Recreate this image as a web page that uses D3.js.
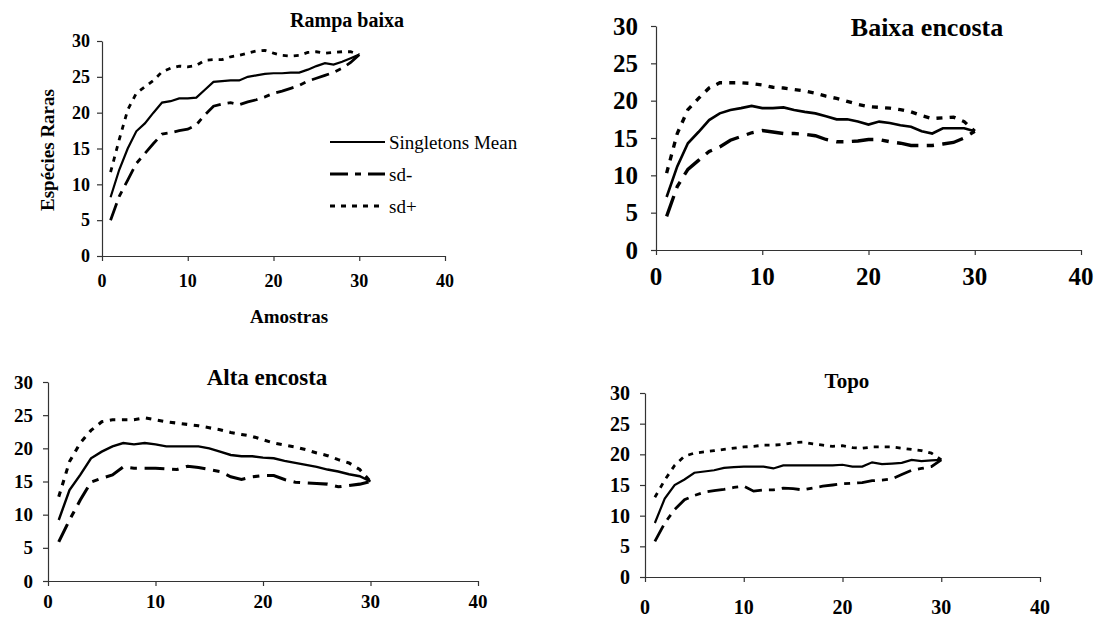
<!DOCTYPE html>
<html>
<head>
<meta charset="utf-8">
<script src="https://cdn.jsdelivr.net/npm/d3@7"></script>
<style>
    body { margin: 0; background: #fff; }
</style>
</head>
<body>
<script>
    // amostras (eixo x)
    let amostras = [1, 2, 3, 4, 5, 6, 7, 8, 9, 10, 11, 12, 13, 14, 15, 16, 17, 18, 19, 20, 21, 22, 23, 24, 25, 26, 27, 28, 29, 30];
    let xTicks = [0, 10, 20, 30, 40];
    let yTicks = [0, 5, 10, 15, 20, 25, 30];
    let legendNames = ["Singletons Mean", "sd-", "sd+"];

    // Rampa baixa
    let rampaMean = [8.2, 12.0, 15.0, 17.4, 18.5, 20.0, 21.4, 21.6, 22.0, 22.0, 22.1, 23.2, 24.3, 24.4, 24.5, 24.5, 25.0, 25.2, 25.4, 25.5, 25.5, 25.6, 25.6, 26.0, 26.5, 26.9, 26.7, 27.1, 27.6, 28.1];
    let rampaSdMinus = [5.0, 8.3, 10.6, 12.9, 14.3, 15.7, 17.0, 17.2, 17.5, 17.7, 18.3, 19.7, 20.9, 21.2, 21.4, 21.1, 21.5, 21.8, 22.2, 22.7, 23.0, 23.4, 23.8, 24.4, 24.8, 25.2, 25.6, 26.2, 27.0, 28.1];
    let rampaSdPlus = [11.7, 16.2, 20.4, 22.7, 23.6, 24.5, 25.7, 26.2, 26.5, 26.4, 26.6, 27.3, 27.4, 27.4, 27.8, 28.0, 28.3, 28.6, 28.7, 28.3, 28.0, 27.9, 28.0, 28.4, 28.5, 28.3, 28.4, 28.5, 28.5, 28.1];

    // Baixa encosta
    let baixaMean = [7.1, 11.2, 14.3, 15.8, 17.4, 18.3, 18.75, 19.0, 19.3, 19.0, 19.0, 19.1, 18.75, 18.5, 18.3, 17.9, 17.5, 17.5, 17.2, 16.8, 17.2, 17.0, 16.7, 16.5, 15.9, 15.6, 16.3, 16.3, 16.3, 15.9];
    let baixaSdMinus = [4.5, 8.5, 10.8, 12.0, 13.2, 13.8, 14.7, 15.2, 15.7, 16.0, 15.8, 15.6, 15.6, 15.5, 15.3, 14.8, 14.5, 14.5, 14.6, 14.8, 14.8, 14.5, 14.3, 14.0, 14.0, 14.0, 14.2, 14.4, 15.0, 15.9];
    let baixaSdPlus = [10.3, 15.6, 18.8, 20.3, 21.7, 22.4, 22.4, 22.4, 22.3, 22.1, 21.8, 21.7, 21.5, 21.3, 21.0, 20.6, 20.3, 19.9, 19.5, 19.2, 19.1, 19.0, 18.8, 18.5, 18.0, 17.6, 17.7, 17.8, 17.2, 15.9];

    // Alta encosta
    let altaMean = [9.2, 13.7, 16.0, 18.5, 19.5, 20.3, 20.8, 20.6, 20.8, 20.6, 20.3, 20.3, 20.3, 20.3, 20.0, 19.5, 19.0, 18.8, 18.8, 18.6, 18.5, 18.1, 17.8, 17.5, 17.2, 16.8, 16.5, 16.1, 15.8, 15.0];
    let altaSdMinus = [5.9, 9.2, 12.2, 14.9, 15.5, 16.0, 17.2, 17.0, 17.0, 17.0, 16.9, 16.8, 17.3, 17.1, 16.8, 16.5, 15.7, 15.3, 15.7, 15.9, 15.9, 15.3, 14.9, 14.8, 14.7, 14.6, 14.2, 14.4, 14.6, 15.0];
    let altaSdPlus = [12.7, 18.0, 20.8, 22.7, 24.0, 24.3, 24.3, 24.3, 24.6, 24.3, 24.0, 23.8, 23.6, 23.4, 23.1, 22.8, 22.4, 22.1, 21.8, 21.3, 20.8, 20.5, 20.2, 19.8, 19.3, 18.9, 18.3, 17.8, 16.8, 15.0];

    // Topo
    let topoMean = [8.8, 12.8, 15.0, 15.9, 17.0, 17.2, 17.4, 17.8, 17.9, 18.0, 18.0, 18.0, 17.7, 18.2, 18.2, 18.2, 18.2, 18.2, 18.2, 18.3, 18.0, 18.0, 18.7, 18.4, 18.5, 18.6, 19.1, 18.9, 19.0, 19.1];
    let topoSdMinus = [5.8, 8.8, 11.0, 12.6, 13.3, 13.8, 14.1, 14.3, 14.6, 14.8, 14.0, 14.2, 14.2, 14.5, 14.4, 14.2, 14.5, 14.8, 15.0, 15.2, 15.3, 15.4, 15.7, 15.8, 16.0, 16.7, 17.4, 17.7, 18.0, 19.1];
    let topoSdPlus = [13.0, 15.8, 18.2, 19.7, 20.2, 20.4, 20.6, 20.8, 21.0, 21.2, 21.3, 21.5, 21.5, 21.6, 21.9, 22.0, 21.7, 21.5, 21.3, 21.4, 21.1, 21.0, 21.2, 21.2, 21.2, 21.0, 20.8, 20.6, 20.2, 19.1];

    let w = 1104;
    let h = 622;
    let serif = "'Liberation Serif', 'DejaVu Serif', serif";

    let svg = d3.select("body")
        .append("svg")
        .attr("width", w)
        .attr("height", h);

    // posicao de cada painel (pixels do eixo)
    let panels = [
        {title: "Rampa baixa", mean: rampaMean, minus: rampaSdMinus, plus: rampaSdPlus,
            x0: 102, x1: 445, y0: 256, y1: 41, font: 18, titleFont: 20, titleX: 347, titleY: 27,
            xLabelY: 287, yLabelX: 90, k: 1, legend: true, axisTitles: true},
        {title: "Baixa encosta", mean: baixaMean, minus: baixaSdMinus, plus: baixaSdPlus,
            x0: 656, x1: 1081, y0: 250, y1: 26, font: 25, titleFont: 26, titleX: 927, titleY: 36,
            xLabelY: 285, yLabelX: 638, k: 1.2},
        {title: "Alta encosta", mean: altaMean, minus: altaSdMinus, plus: altaSdPlus,
            x0: 48, x1: 478, y0: 581, y1: 382, font: 19, titleFont: 23, titleX: 267, titleY: 385,
            xLabelY: 608, yLabelX: 33, k: 1.1},
        {title: "Topo", mean: topoMean, minus: topoSdMinus, plus: topoSdPlus,
            x0: 645, x1: 1040, y0: 577, y1: 393, font: 20, titleFont: 21, titleX: 847, titleY: 388,
            xLabelY: 614, yLabelX: 630, k: 1}
    ];

    function label(g, size, weight) {
        return g.append("text")
            .style("font-family", serif)
            .style("font-weight", weight || "bold")
            .style("font-size", size + "px")
            .attr("fill", "#000");
    }

    function drawPanel(p) {
        let x = d3.scaleLinear().domain([0, 40]).range([p.x0, p.x1]);
        let y = d3.scaleLinear().domain([0, 30]).range([p.y0, p.y1]);
        let g = svg.append("g");

        // eixo x
        g.append("g")
            .attr("transform", "translate(0," + p.y0 + ")")
            .call(d3.axisBottom(x).tickValues(xTicks).tickSize(5).tickSizeOuter(0).tickFormat(""));
        // eixo y
        g.append("g")
            .attr("transform", "translate(" + p.x0 + ",0)")
            .call(d3.axisLeft(y).tickValues(yTicks).tickSize(5).tickSizeOuter(0).tickFormat(""));
        g.selectAll(".domain, .tick line").attr("stroke", "#333").attr("stroke-width", 1.2);

        xTicks.forEach(function (d) {
            label(g, p.font)
                .attr("x", x(d))
                .attr("y", p.xLabelY)
                .attr("text-anchor", "middle")
                .text(d);
        });

        yTicks.forEach(function (d) {
            label(g, p.font)
                .attr("x", p.yLabelX)
                .attr("y", y(d))
                .attr("dy", "0.35em")
                .attr("text-anchor", "end")
                .text(d);
        });

        label(g, p.titleFont)
            .attr("x", p.titleX)
            .attr("y", p.titleY)
            .attr("text-anchor", "middle")
            .text(p.title);

        let line = d3.line()
            .x((d, i) => x(amostras[i]))
            .y(d => y(d));

        // estilos das series
        let styles = [
            {data: p.mean, width: 2.2 * p.k, dash: null},
            {data: p.minus, width: 2.8 * p.k, dash: [18 * p.k, 7 * p.k, 6 * p.k, 7 * p.k]},
            {data: p.plus, width: 2.8 * p.k, dash: [5 * p.k, 6 * p.k]}
        ];

        styles.forEach(function (s) {
            g.append("path")
                .datum(s.data)
                .attr("fill", "none")
                .attr("stroke", "#000")
                .attr("stroke-width", s.width)
                .attr("stroke-dasharray", s.dash ? s.dash.join(",") : null)
                .attr("d", line);
        });

        if (p.legend) {
            let ly = [142, 174, 206];
            for (let k = 0; k < legendNames.length; k++) {
                g.append("line")
                    .attr("x1", 330)
                    .attr("x2", 385)
                    .attr("y1", ly[k])
                    .attr("y2", ly[k])
                    .attr("stroke", "#000")
                    .attr("stroke-width", styles[k].width)
                    .attr("stroke-dasharray", styles[k].dash ? styles[k].dash.join(",") : null);
                label(g, 19, "normal")
                    .attr("x", 389)
                    .attr("y", ly[k])
                    .attr("dy", "0.35em")
                    .text(legendNames[k]);
            }
        }

        if (p.axisTitles) {
            label(g, 19)
                .attr("x", 289)
                .attr("y", 323)
                .attr("text-anchor", "middle")
                .text("Amostras");
            label(g, 19)
                .attr("transform", "translate(54,150) rotate(-90)")
                .attr("text-anchor", "middle")
                .text("Espécies Raras");
        }
    }

    panels.forEach(drawPanel);
</script>
</body>
</html>
